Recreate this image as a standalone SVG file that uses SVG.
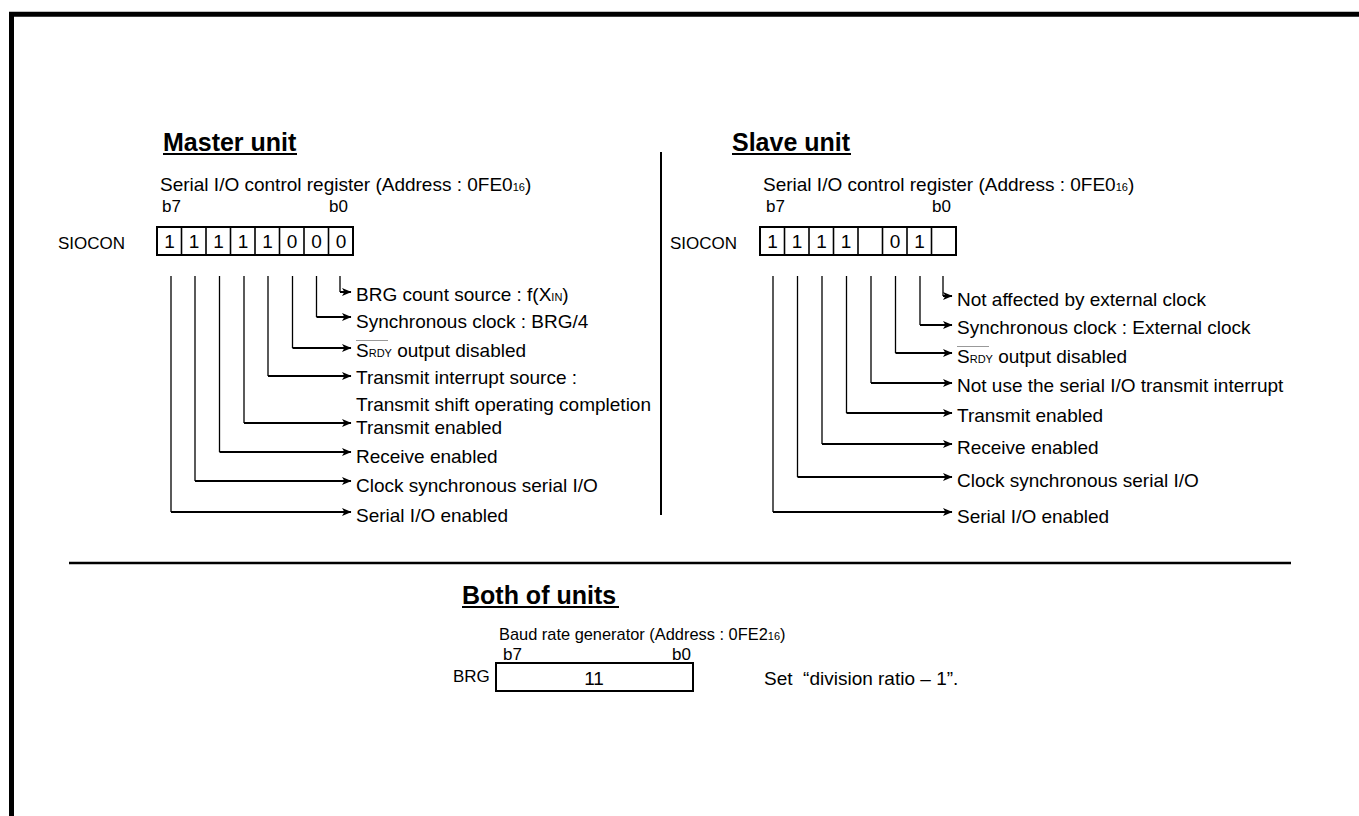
<svg xmlns="http://www.w3.org/2000/svg" width="1359" height="816" viewBox="0 0 1359 816">
<defs>
<style>
text{font-family:"Liberation Sans",Arial,sans-serif;fill:#000}
.t{font-size:19px}
.l{font-size:17px}
.b{font-size:16.4px}
.h{font-size:25px;font-weight:bold}
.sm{font-size:11px}
.reg{fill:#fff;stroke:#000;stroke-width:2}
.div{stroke:#000;stroke-width:1.6}
.v{fill:none;stroke:#000;stroke-width:1.3}
.a{fill:none;stroke:#000;stroke-width:2;marker-end:url(#ah)}
.ol{stroke:#999;stroke-width:1}
</style>
<marker id="ah" markerWidth="10" markerHeight="9" refX="9" refY="4.5" orient="auto" markerUnits="userSpaceOnUse">
<path d="M0,0.5 L9.5,4.5 L0,8.5 L2.4,4.5 z" fill="#000"/>
</marker>
</defs>
<rect width="1359" height="816" fill="#fff"/>
<path d="M11.5,816 V14.3 H1359" fill="none" stroke="#000" stroke-width="5"/>
<line x1="69" y1="563" x2="1291" y2="563" stroke="#000" stroke-width="2.5"/>
<line x1="661" y1="152" x2="661" y2="515" stroke="#000" stroke-width="2"/>

<g id="master">
<text class="h" x="163" y="151">Master unit</text>
<line x1="163" y1="154" x2="297" y2="154" stroke="#000" stroke-width="2"/>
<text class="t" x="160" y="191">Serial I/O control register (Address : 0FE0<tspan class="sm">16</tspan>)</text>
<text class="l" x="162" y="212">b7</text>
<text class="l" x="329" y="212">b0</text>
<text class="l" x="58" y="249">SIOCON</text>
<rect class="reg" x="157" y="227" width="196" height="28"/>
<g class="div">
<line x1="181.5" y1="227" x2="181.5" y2="255"/><line x1="206" y1="227" x2="206" y2="255"/>
<line x1="230.5" y1="227" x2="230.5" y2="255"/><line x1="255" y1="227" x2="255" y2="255"/>
<line x1="279.5" y1="227" x2="279.5" y2="255"/><line x1="304" y1="227" x2="304" y2="255"/>
<line x1="328.5" y1="227" x2="328.5" y2="255"/>
</g>
<g class="t" text-anchor="middle">
<text x="169.5" y="248">1</text><text x="194" y="248">1</text><text x="218.5" y="248">1</text><text x="243" y="248">1</text>
<text x="267.5" y="248">1</text><text x="292" y="248">0</text><text x="316.5" y="248">0</text><text x="341" y="248">0</text>
</g>
<g class="t">
<text x="356" y="301">BRG count source : f(X<tspan class="sm">IN</tspan>)</text>
<text x="356" y="328">Synchronous clock : BRG/4</text>
<text x="356" y="357">S<tspan class="sm">RDY</tspan> output disabled</text>
<text x="356" y="384">Transmit interrupt source :</text>
<text x="356" y="411">Transmit shift operating completion</text>
<text x="356" y="434">Transmit enabled</text>
<text x="356" y="463">Receive enabled</text>
<text x="356" y="492">Clock synchronous serial I/O</text>
<text x="356" y="522">Serial I/O enabled</text>
</g>
<line class="ol" x1="356" y1="340.5" x2="388" y2="340.5"/>
</g>

<g id="slave">
<text class="h" x="732" y="151">Slave unit</text>
<line x1="732" y1="154" x2="851" y2="154" stroke="#000" stroke-width="2"/>
<text class="t" x="763" y="191">Serial I/O control register (Address : 0FE0<tspan class="sm">16</tspan>)</text>
<text class="l" x="766" y="212">b7</text>
<text class="l" x="932" y="212">b0</text>
<text class="l" x="670" y="249">SIOCON</text>
<rect class="reg" x="760" y="227" width="196" height="28"/>
<g class="div">
<line x1="784.5" y1="227" x2="784.5" y2="255"/><line x1="809" y1="227" x2="809" y2="255"/>
<line x1="833.5" y1="227" x2="833.5" y2="255"/><line x1="858" y1="227" x2="858" y2="255"/>
<line x1="882.5" y1="227" x2="882.5" y2="255"/><line x1="907" y1="227" x2="907" y2="255"/>
<line x1="931.5" y1="227" x2="931.5" y2="255"/>
</g>
<g class="t" text-anchor="middle">
<text x="772.5" y="248">1</text><text x="797" y="248">1</text><text x="821.5" y="248">1</text><text x="846" y="248">1</text>
<text x="895" y="248">0</text><text x="919.5" y="248">1</text>
</g>
<g class="t">
<text x="957" y="306">Not affected by external clock</text>
<text x="957" y="334">Synchronous clock : External clock</text>
<text x="957" y="363">S<tspan class="sm">RDY</tspan> output disabled</text>
<text x="957" y="392">Not use the serial I/O transmit interrupt</text>
<text x="957" y="422">Transmit enabled</text>
<text x="957" y="454">Receive enabled</text>
<text x="957" y="487">Clock synchronous serial I/O</text>
<text x="957" y="523">Serial I/O enabled</text>
</g>
<line class="ol" x1="957" y1="346.5" x2="989" y2="346.5"/>
</g>

<g id="both">
<text class="h" x="462" y="604">Both of units</text>
<line x1="462" y1="607" x2="619" y2="607" stroke="#000" stroke-width="2"/>
<text class="b" x="499" y="640">Baud rate generator (Address : 0FE2<tspan class="sm">16</tspan>)</text>
<text class="l" x="503" y="660">b7</text>
<text class="l" x="672" y="660">b0</text>
<text class="l" x="453" y="682">BRG</text>
<rect class="reg" x="496" y="663" width="197" height="28"/>
<text class="t" x="594" y="685" text-anchor="middle">11</text>
<text class="t" x="764" y="685">Set&#160; “division ratio – 1”.</text>
</g>

<g id="connectors">
<path class="v" d="M171,276 V512"/><path class="a" d="M171,512 H351"/>
<path class="v" d="M195,276 V481"/><path class="a" d="M195,481 H351"/>
<path class="v" d="M219.5,276 V452"/><path class="a" d="M219.5,452 H351"/>
<path class="v" d="M244,276 V423"/><path class="a" d="M244,423 H351"/>
<path class="v" d="M268,276 V376"/><path class="a" d="M268,376 H351"/>
<path class="v" d="M292.5,276 V348"/><path class="a" d="M292.5,348 H351"/>
<path class="v" d="M316.5,276 V317"/><path class="a" d="M316.5,317 H351"/>
<path class="v" d="M340,276 V292"/><path class="a" d="M340,292 H351"/>

<path class="v" d="M773,276 V512"/><path class="a" d="M773,512 H952"/>
<path class="v" d="M797.5,276 V477"/><path class="a" d="M797.5,477 H952"/>
<path class="v" d="M822,276 V444"/><path class="a" d="M822,444 H952"/>
<path class="v" d="M846.5,276 V413"/><path class="a" d="M846.5,413 H952"/>
<path class="v" d="M871,276 V383"/><path class="a" d="M871,383 H952"/>
<path class="v" d="M895.5,276 V353"/><path class="a" d="M895.5,353 H952"/>
<path class="v" d="M920,276 V325"/><path class="a" d="M920,325 H952"/>
<path class="v" d="M943,276 V296"/><path class="a" d="M943,296 H952"/>
</g>
</svg>
